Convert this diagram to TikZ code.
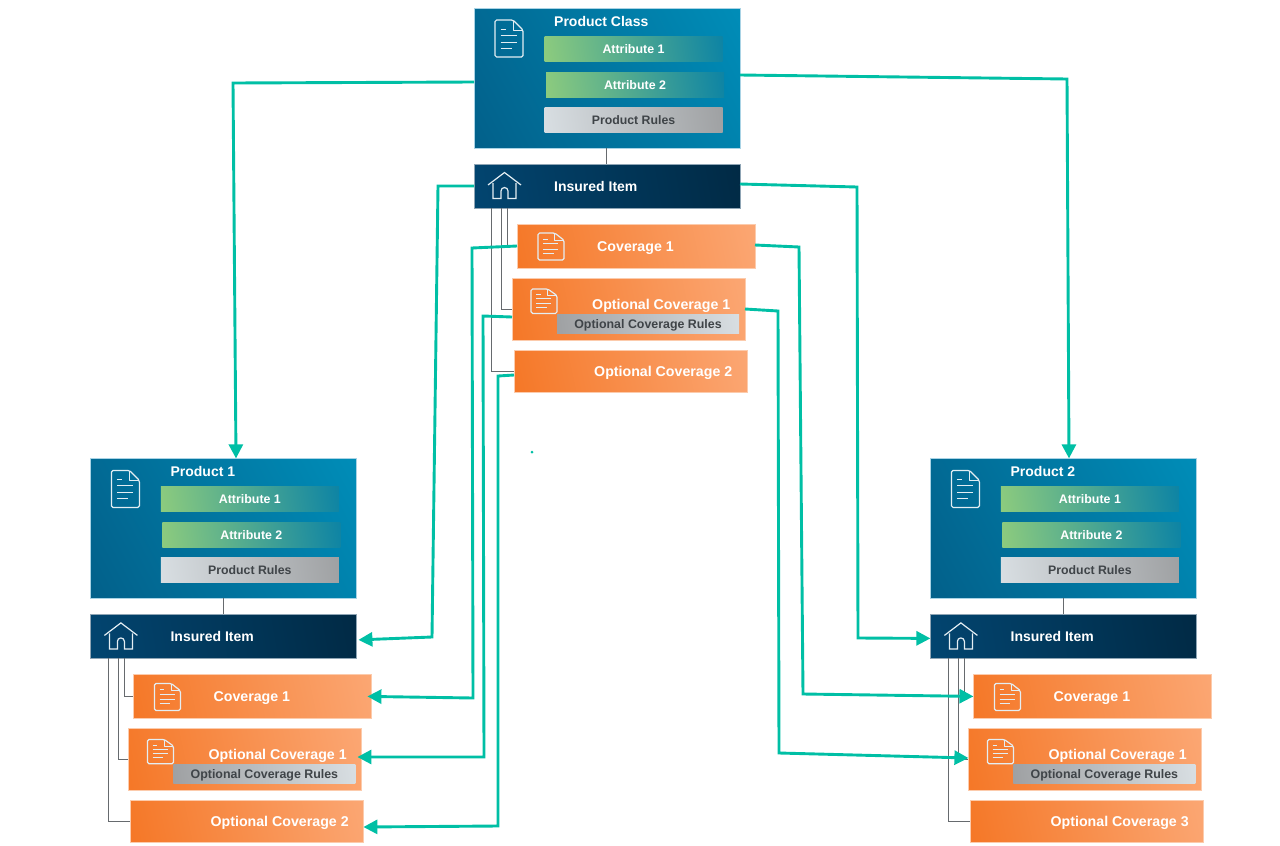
\documentclass[tikz,border=0pt]{standalone}
\usepackage{fontspec}
\setmainfont{Liberation Sans}
\usetikzlibrary{arrows.meta}
\definecolor{teal}{HTML}{00BFA5}
\definecolor{thin}{HTML}{666A6E}
\definecolor{bA}{HTML}{02608A}\definecolor{bB}{HTML}{008DB8}
\definecolor{nA}{HTML}{024570}\definecolor{nB}{HTML}{012A45}
\definecolor{oA}{HTML}{F57828}\definecolor{oB}{HTML}{FBA672}
\definecolor{gA}{HTML}{8CCB7E}\definecolor{gB}{HTML}{0E84A4}
\definecolor{rA}{HTML}{D8DEE2}\definecolor{rB}{HTML}{9FA1A3}
\definecolor{rT}{HTML}{3F4448}\definecolor{hC}{HTML}{E4EEF3}
\definecolor{eP}{HTML}{A9D3E5}\definecolor{eN}{HTML}{8FA5B5}\definecolor{eO}{HTML}{FCCBAC}
\pgfdeclareverticalshading{sprod}{100bp}{color(0bp)=(bA); color(16bp)=(bA); color(84bp)=(bB); color(100bp)=(bB)}
\pgfdeclareverticalshading{sins}{100bp}{color(0bp)=(nA); color(21bp)=(nA); color(79bp)=(nB); color(100bp)=(nB)}
\pgfdeclareverticalshading{sor}{100bp}{color(0bp)=(oA); color(21bp)=(oA); color(79bp)=(oB); color(100bp)=(oB)}
\pgfdeclareverticalshading{sattr}{100bp}{color(0bp)=(gA); color(22bp)=(gA); color(78bp)=(gB); color(100bp)=(gB)}
\pgfdeclareverticalshading{srule}{100bp}{color(0bp)=(rA); color(22bp)=(rA); color(78bp)=(rB); color(100bp)=(rB)}
\pgfdeclareverticalshading{sorule}{100bp}{color(0bp)=(rB); color(22bp)=(rB); color(78bp)=(rA); color(100bp)=(rA)}
\tikzset{
  x=1pt,y=-1pt,
  box/.style={rectangle,anchor=north west,inner sep=0pt,outer sep=0pt},
  prodbox/.style={box,draw=eP,line width=.6pt,shade,shading=sprod,shading angle=-62},
  insbox/.style={box,draw=eN,line width=.5pt,shade,shading=sins,shading angle=-80},
  orbox/.style={box,draw=eO,line width=.5pt,shade,shading=sor,shading angle=-78},
  attrbox/.style={box,shade,shading=sattr,shading angle=-82,text=white,font=\fontsize{12.4}{14}\selectfont\bfseries,minimum width=178pt,minimum height=25pt,text height=10pt,text depth=0pt},
  rulebox/.style={box,shade,shading=srule,shading angle=-82,text=rT,font=\fontsize{12.3}{14}\selectfont\bfseries,minimum width=178pt,minimum height=25pt,text height=9pt,text depth=0pt},
  optrule/.style={box,shade,shading=sorule,shading angle=-82,text=rT,font=\fontsize{12.4}{14}\selectfont\bfseries,minimum width=182pt,minimum height=19pt,text height=12pt,text depth=2.5pt},
  title/.style={anchor=west,inner sep=0pt,text=white,font=\fontsize{14}{16}\selectfont\bfseries},
  cover/.style={anchor=west,inner sep=0pt,text=white,font=\fontsize{14.2}{16}\selectfont\bfseries},
  conn/.style={draw=teal,line width=2.9pt,miter limit=10},
  arr/.style={conn,-{Triangle[length=14pt,width=14pt]}},
  tie/.style={draw=thin,line width=.8pt},
  doc/.pic={
    \draw[line width=1.2pt,rounded corners=1.6pt,draw=hC] (18,0) -- (0,0) -- (0,37) -- (28,37) -- (28,10) -- cycle;
    \draw[line width=1pt,line join=round,draw=hC] (18,0.5) -- (18,10) -- (27.5,10);
    \draw[line width=1pt,draw=hC] (5.5,9) -- (10.5,9) (5.5,15) -- (22,15) (5.5,22) -- (22,22) (5.5,28) -- (17,28);
  },
  house/.pic={
    \draw[line width=1.2pt,draw=hC] (0,13) -- (16.5,0.5) -- (33,13);
    \draw[line width=1.2pt,draw=hC] (5,11) -- (5,26.5) -- (13,26.5) -- (13,19) arc[start angle=180,end angle=360,radius=3.5] -- (20,26.5) -- (28,26.5) -- (28,11);
  }
}
\newcommand{\productgroup}[4]{%
 \begin{scope}[shift={(#2)}]
  \node[prodbox,minimum width=266pt,minimum height=140pt] (#1) at (474,8) {};
  \node[insbox,minimum width=266pt,minimum height=44pt] (#1ins) at (474,164) {};
  \node[orbox,minimum width=238pt,minimum height=44pt] (#1cov) at (517,224) {};
  \node[orbox,minimum width=233pt,minimum height=62pt] (#1oa) at (512,278) {};
  \node[orbox,minimum width=233pt,minimum height=42pt] (#1ob) at (514,350) {};
  \draw[tie] (#1.south -| 606.5,0) -- (#1ins.north -| 606.5,0);
  \draw[tie] (#1ins.south -| 491.5,0) |- (#1ob.west);
  \draw[tie] (#1ins.south -| 501.5,0) |- (#1oa.west);
  \draw[tie] (#1ins.south -| 507.5,0) |- (#1cov.west);
  \pic at (495,20) {doc};
  \pic at (488,172) {house};
  \pic[xscale=.93,yscale=.73] at (538,233) {doc};
  \pic[xscale=.93,yscale=.66] at (531,289) {doc};
  \node[title] (#1t) at (554,21.5) {#3};
  \node[attrbox] (#1a) at (544.5,36) {Attribute 1};
  \node[attrbox] (#1b) at (546,72) {Attribute 2};
  \node[rulebox] (#1r) at (544.5,107) {Product Rules};
  \node[title] (#1it) at (554,186.5) {Insured Item};
  \node[cover] (#1ct) at (597,248) {Coverage 1};
  \node[cover] (#1oat) at (592,305.5) {Optional Coverage 1};
  \node[optrule] (#1orl) at (557,314) {Optional Coverage Rules};
  \node[cover] (#1obt) at (594,372.5) {#4};
 \end{scope}}
\begin{document}
\begin{tikzpicture}
\useasboundingbox (0,0) rectangle (1280,846);
\productgroup{cls}{0,0}{Product Class}{Optional Coverage 2}
\productgroup{one}{-383.6,450.4}{Product 1}{Optional Coverage 2}
\productgroup{two}{456.4,450.4}{Product 2}{Optional Coverage 3}
% connectors
\draw[arr] (cls.west |- 0,82) -- (233,83) -- (one.north -| 236,0);
\draw[arr] (cls.east |- 0,75) -- (1067,79) -- (two.north -| 1069,0);
\draw[arr] (clsins.west) -- (438,186) -- (432,637) -- ([shift={(2pt,-3.5pt)}]oneins.east);
\draw[arr] (clsins.east |- 0,184) -- (857,187) -- (858,638) -- ([yshift=-2pt]twoins.west);
\draw[arr] (clscov.west) -- (472,248) -- (473,698) -- ([xshift=-4pt]onecov.east);
\draw[arr] (clscov.east |- 0,245) -- (799,247) -- (803,694) -- (twocov.west);
\draw[arr] (clsoa.west |- 0,317) -- (483,316) -- (484,757) -- ([xshift=-4pt]oneoa.east |- 0,757);
\draw[arr] (clsoa.east) -- (778,311) -- (779,753) -- (twooa.west |- 0,758);
\draw[arr] (clsob.west |- 0,375) -- (498,376) -- (498,826) -- (oneob.east |- 0,827);
\node[circle,fill=teal,inner sep=0pt,minimum size=3pt] (speck) at (532,452) {};
\end{tikzpicture}
\end{document}
